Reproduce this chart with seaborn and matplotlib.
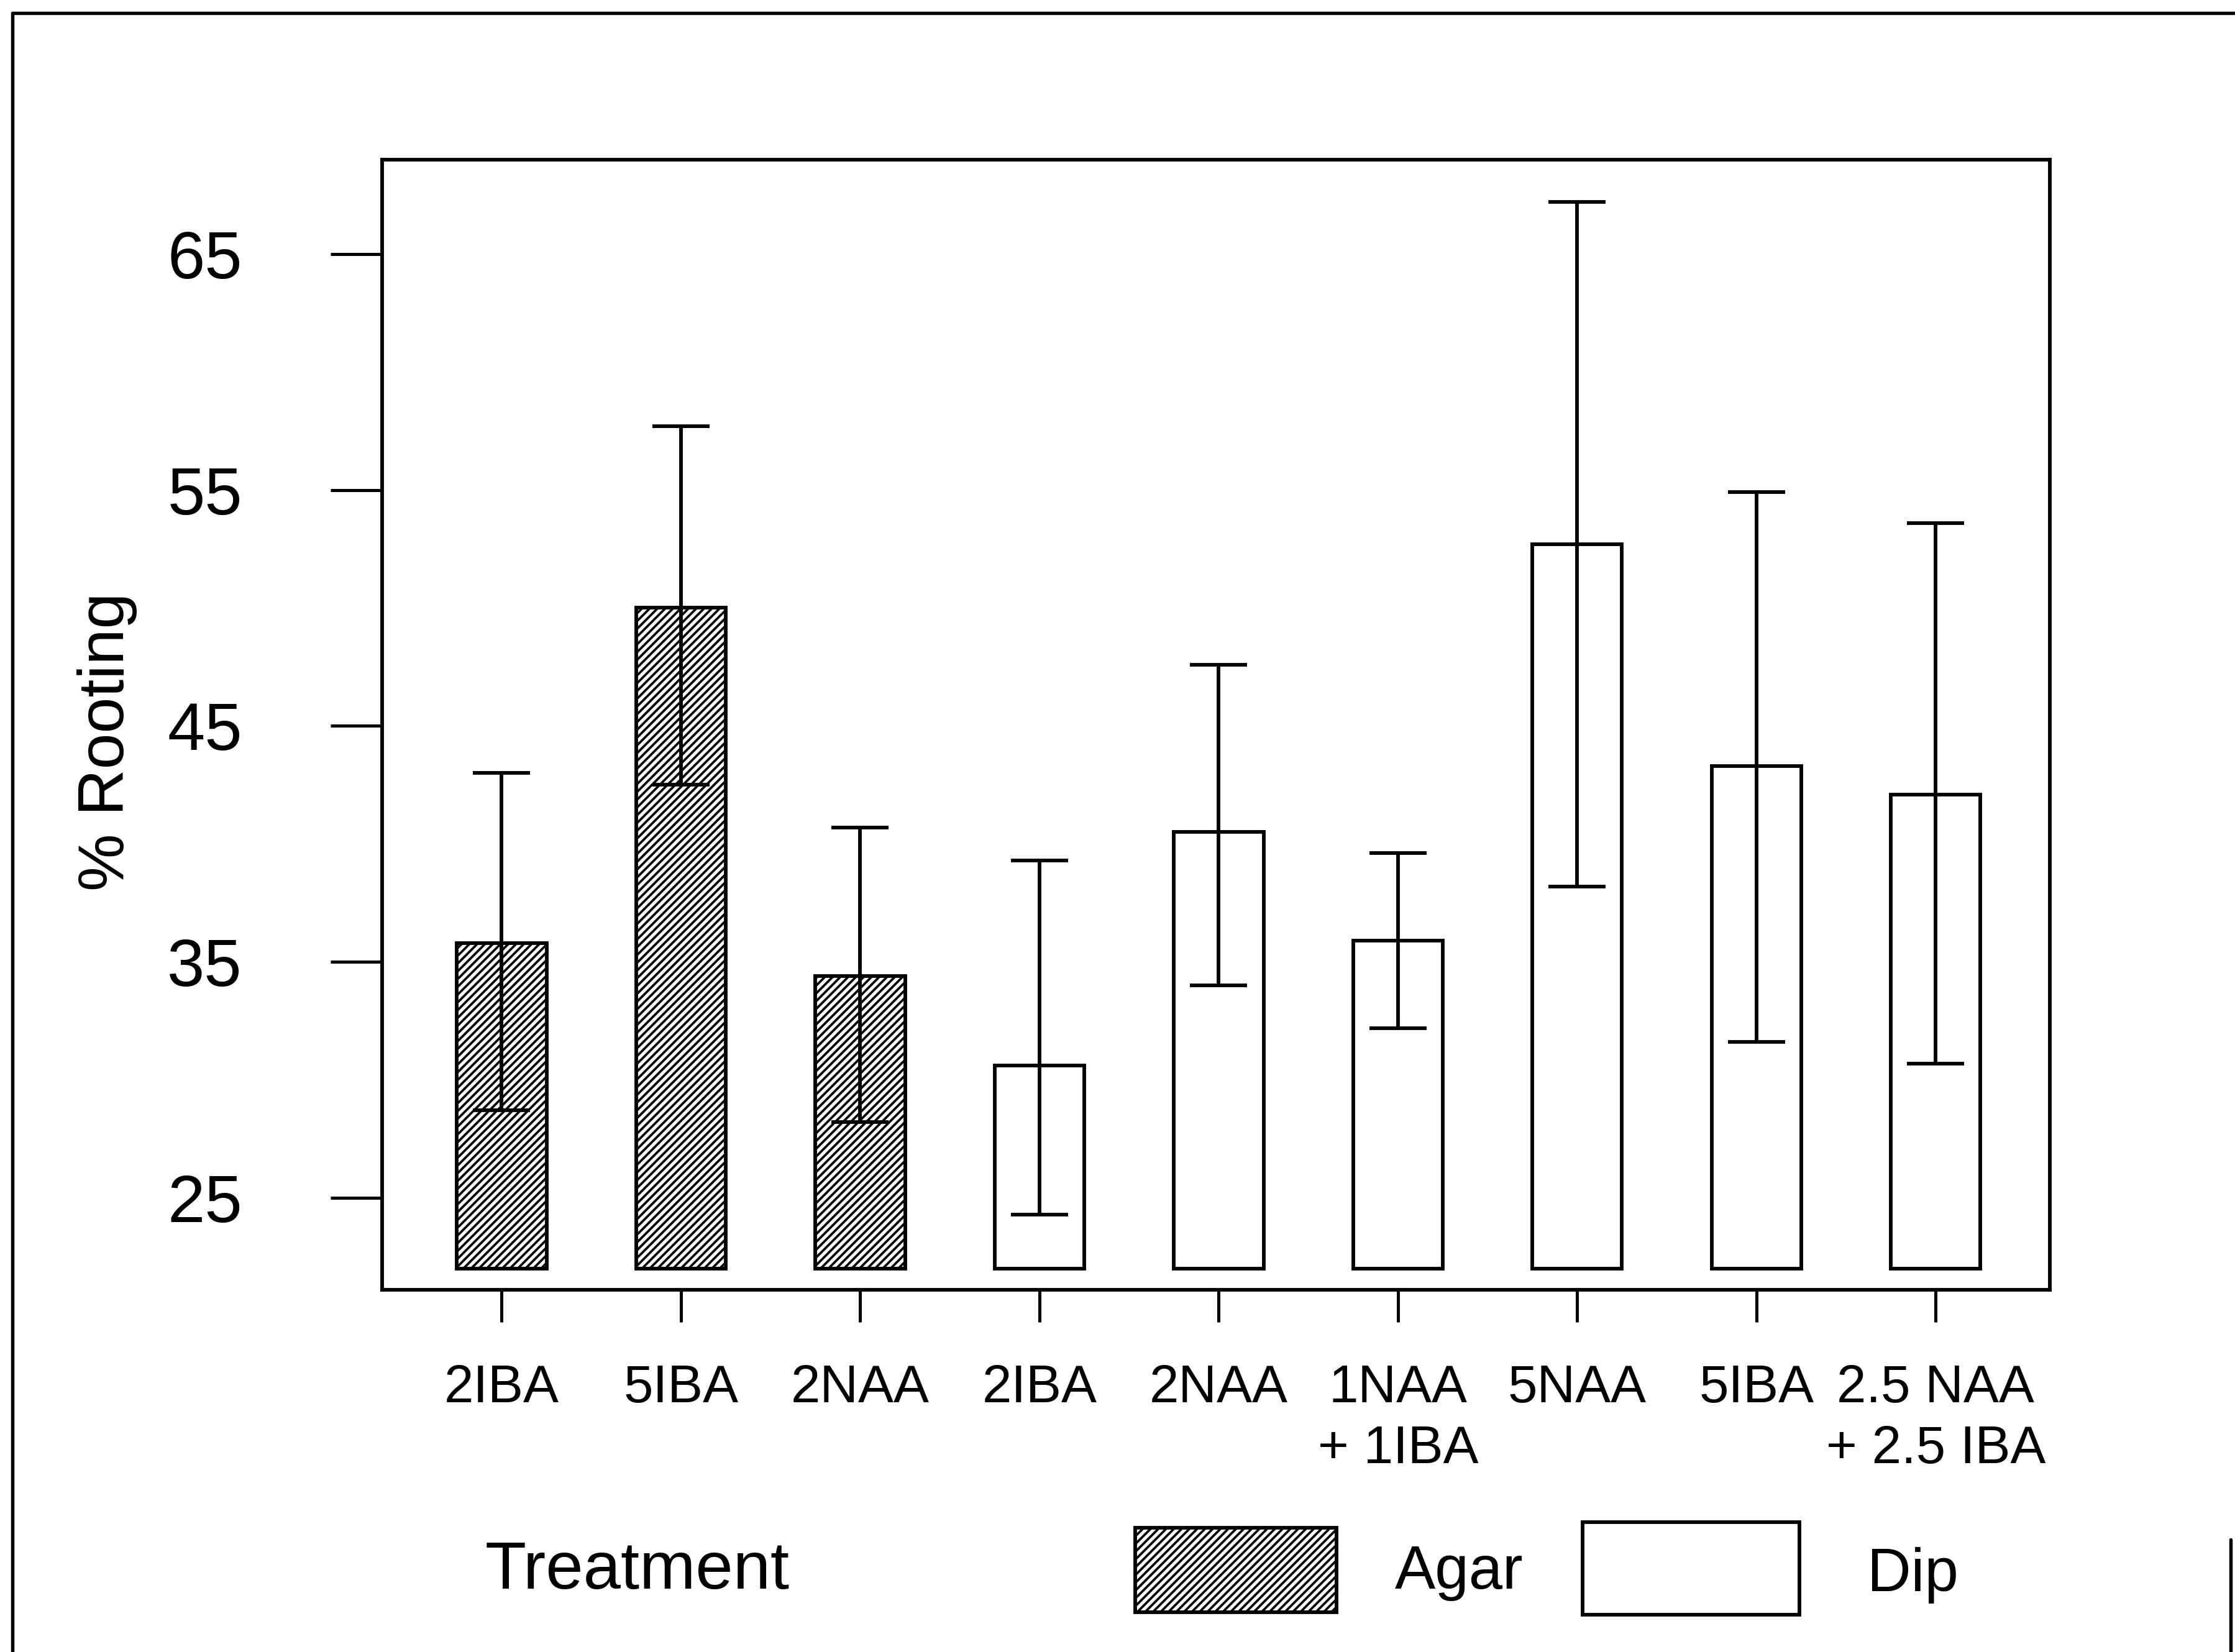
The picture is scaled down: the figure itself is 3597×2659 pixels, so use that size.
import matplotlib
matplotlib.use("Agg")
import matplotlib.pyplot as plt
from matplotlib.patches import Rectangle
from matplotlib.lines import Line2D
import seaborn as sns
import pandas as pd

# ---- data ----
labels = ["2IBA", "5IBA", "2NAA", "2IBA", "2NAA", "1NAA\n+ 1IBA", "5NAA", "5IBA", "2.5 NAA\n+ 2.5 IBA"]
method = ["Agar", "Agar", "Agar", "Dip", "Dip", "Dip", "Dip", "Dip", "Dip"]
rooting = [35.8, 50.0, 34.4, 30.6, 40.5, 35.9, 52.7, 43.3, 42.1]
err_low = [28.7, 42.5, 28.2, 24.3, 34.0, 32.2, 38.2, 31.6, 30.7]
err_high = [43.0, 57.7, 40.7, 39.3, 47.6, 39.6, 67.2, 54.9, 53.6]
yticks = [25, 35, 45, 55, 65]
BASE = 22.0

df = pd.DataFrame({"pos": list(range(len(labels))), "rooting": rooting, "method": method})

sns.set_style("ticks")
plt.rcParams["font.family"] = ["Liberation Sans", "DejaVu Sans"]
plt.rcParams["hatch.linewidth"] = 0.9
plt.rcParams["text.color"] = "black"
plt.rcParams["xtick.color"] = "black"
plt.rcParams["ytick.color"] = "black"
plt.rcParams["xtick.labelcolor"] = "black"
plt.rcParams["ytick.labelcolor"] = "black"

fig = plt.figure(figsize=(3597 / 300, 2659 / 300), dpi=300)
ax = fig.add_axes([0.1709, 0.2192, 0.9171 - 0.1709, 0.9034 - 0.2192])

sns.barplot(data=df, x="pos", y="rooting", hue="method", dodge=False,
            palette={"Agar": "white", "Dip": "white"}, width=0.5,
            edgecolor="black", linewidth=1.4, legend=False, ax=ax)

# bars start at BASE rather than 0; Agar bars hatched
for p in ax.patches:
    h = p.get_height()
    if h <= 0:
        continue
    p.set_y(BASE)
    p.set_height(h - BASE)
    i = int(round(p.get_x() + p.get_width() / 2))
    if 0 <= i < len(method) and method[i] == "Agar":
        p.set_hatch("////////")

lo = [r - l for r, l in zip(rooting, err_low)]
hi = [h - r for r, h in zip(rooting, err_high)]
ax.errorbar(df["pos"], df["rooting"], yerr=[lo, hi], fmt="none", ecolor="black",
            elinewidth=1.4, capsize=11, capthick=1.4, zorder=5)

ax.set_xlim(-0.668, 8.636)
ax.set_ylim(21.1, 69.0)
ax.set_yticks(yticks)
ax.set_yticklabels([str(t) for t in yticks], fontsize=26)
ax.set_xticks(range(len(labels)))
ax.set_xticklabels(labels, fontsize=20.5, linespacing=1.3)
ax.tick_params(axis="y", direction="out", length=20, width=1.2, pad=34)
ax.tick_params(axis="x", direction="out", length=12.5, width=1.2, pad=16)
for s in ax.spines.values():
    s.set_visible(True)
    s.set_linewidth(1.4)
    s.set_color("black")
ax.set_xlabel("")
ax.set_ylabel("")

fig.text(0.048, 0.551, "% Rooting", rotation=90, fontsize=25, ha="center", va="center")
fig.text(0.217, 0.049, "Treatment", fontsize=26, ha="left", va="center")

fig.add_artist(Rectangle((0.508, 0.0242), 0.090, 0.0509, transform=fig.transFigure,
                         facecolor="white", edgecolor="black", linewidth=1.4, hatch="////////"))
fig.add_artist(Rectangle((0.708, 0.0224), 0.097, 0.0561, transform=fig.transFigure,
                         facecolor="white", edgecolor="black", linewidth=1.4))
fig.text(0.624, 0.048, "Agar", fontsize=23.5, ha="left", va="center")
fig.text(0.8355, 0.0466, "Dip", fontsize=23.5, ha="left", va="center")

# outer frame of the scanned figure
fig.add_artist(Line2D([0.0055, 1.0], [0.992, 0.992], transform=fig.transFigure, color="black", linewidth=1.3))
fig.add_artist(Line2D([0.0055, 0.0055], [0.0, 0.992], transform=fig.transFigure, color="black", linewidth=1.3))
fig.add_artist(Line2D([0.998, 0.998], [0.0, 0.068], transform=fig.transFigure, color="black", linewidth=1.3))

fig.savefig("out.png", dpi=300, facecolor="white")
